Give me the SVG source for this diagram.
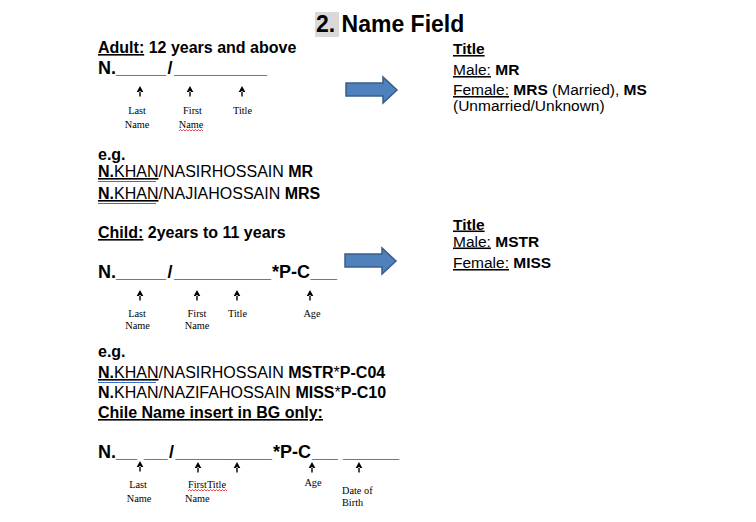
<svg xmlns="http://www.w3.org/2000/svg" xmlns:xlink="http://www.w3.org/1999/xlink" width="756" height="522" viewBox="0 0 756 522">
<style>
.t{font-family:"Liberation Sans",Arial,sans-serif;fill:#000}
.b{font-weight:bold}
.u{text-decoration:underline}
.h{font-size:16px}
.r{font-size:15.5px}
.n{font-size:18px;font-weight:bold}
.s{font-family:"Liberation Serif","Times New Roman",serif;font-size:10.3px;fill:#000}
.blk{fill:#4F81BD;stroke:#385D8A;stroke-width:1.5}
.blue{stroke:#3A6FD8;stroke-width:1}
.sq{fill:none;stroke:#E02020;stroke-width:0.8}
</style>
<defs>
<path id="ua" d="M0,0 L-3.3,6 L3.3,6 Z M-0.7,5 H0.7 V10.5 H-0.7 Z" fill="#000"/>
</defs>
<rect width="756" height="522" fill="#fff"/>

<g id="heading">
<rect x="315" y="12" width="24" height="25" fill="#D9D9D9"/>
<text class="t b" x="316" y="32" font-size="23">2. Name Field</text>
</g>

<g id="adult">
<text class="t h b" x="98" y="53"><tspan class="u">Adult:</tspan> 12 years and above</text>
<text class="t n" y="74"><tspan x="98">N.</tspan><tspan x="116" textLength="50" lengthAdjust="spacingAndGlyphs">_____</tspan><tspan x="167.5">/</tspan><tspan x="174" textLength="93" lengthAdjust="spacingAndGlyphs">_________</tspan></text>
<use xlink:href="#ua" x="140" y="86"/>
<use xlink:href="#ua" x="190" y="86"/>
<use xlink:href="#ua" x="242" y="86"/>
<text class="s" text-anchor="middle"><tspan x="137" y="114">Last</tspan><tspan x="137" y="128">Name</tspan><tspan x="192.5" y="114">First</tspan><tspan x="191" y="128">Name</tspan><tspan x="242.5" y="114">Title</tspan></text>
<path class="sq" d="M179,131 l1.5,-1.5 l1.5,1.5 l1.5,-1.5 l1.5,1.5 l1.5,-1.5 l1.5,1.5 l1.5,-1.5 l1.5,1.5 l1.5,-1.5 l1.5,1.5 l1.5,-1.5 l1.5,1.5 l1.5,-1.5 l1.5,1.5 l1.5,-1.5 l1.5,1.5"/>
</g>

<g id="adult-examples">
<text class="t h b" x="98" y="160">e.g.</text>
<text class="t h" x="98" y="177"><tspan class="b u">N.</tspan><tspan class="u">KHAN</tspan>/NASIRHOSSAIN <tspan class="b">MR</tspan></text>
<line class="blue" x1="98" y1="181.5" x2="156" y2="181.5"/>
<text class="t h" x="98" y="199"><tspan class="b u">N.</tspan><tspan class="u">KHAN</tspan>/NAJIAHOSSAIN <tspan class="b">MRS</tspan></text>
<line class="blue" x1="98" y1="203.5" x2="156" y2="203.5"/>
</g>

<g id="adult-titles">
<text class="t r b u" x="453" y="54">Title</text>
<text class="t r" x="453" y="75"><tspan class="u">Male:</tspan> <tspan class="b">MR</tspan></text>
<text class="t r" x="453" y="95"><tspan class="u">Female:</tspan> <tspan class="b">MRS</tspan> (Married), <tspan class="b">MS</tspan></text>
<text class="t r" x="453" y="111">(Unmarried/Unknown)</text>
</g>

<g id="child">
<text class="t h b" x="98" y="238"><tspan class="u">Child:</tspan> 2years to 11 years</text>
<text class="t n" y="278"><tspan x="98">N.</tspan><tspan x="116" textLength="50" lengthAdjust="spacingAndGlyphs">_____</tspan><tspan x="167.5">/</tspan><tspan x="174" textLength="97" lengthAdjust="spacingAndGlyphs">_________</tspan><tspan x="272">*P-C</tspan><tspan x="310.5" textLength="26.5" lengthAdjust="spacingAndGlyphs">___</tspan></text>
<use xlink:href="#ua" x="140" y="290"/>
<use xlink:href="#ua" x="197" y="290"/>
<use xlink:href="#ua" x="237" y="290"/>
<use xlink:href="#ua" x="310" y="290"/>
<text class="s" text-anchor="middle"><tspan x="137" y="317">Last</tspan><tspan x="137.5" y="329">Name</tspan><tspan x="197" y="317">First</tspan><tspan x="197" y="329">Name</tspan><tspan x="237.5" y="317">Title</tspan><tspan x="312" y="317">Age</tspan></text>
</g>

<g id="child-titles">
<text class="t r b u" x="453" y="229.5">Title</text>
<text class="t r" x="453" y="246.5"><tspan class="u">Male:</tspan> <tspan class="b">MSTR</tspan></text>
<text class="t r" x="453" y="268"><tspan class="u">Female:</tspan> <tspan class="b">MISS</tspan></text>
</g>

<g id="child-examples">
<text class="t h b" x="98" y="357">e.g.</text>
<text class="t h" x="98" y="378"><tspan class="b u">N.</tspan><tspan class="u">KHAN</tspan>/NASIRHOSSAIN <tspan class="b">MSTR</tspan>*<tspan class="b">P-C04</tspan></text>
<line class="blue" x1="98" y1="382.5" x2="156" y2="382.5"/>
<text class="t h" x="98" y="398"><tspan class="b">N.</tspan>KHAN/NAZIFAHOSSAIN <tspan class="b">MISS</tspan>*<tspan class="b">P-C10</tspan></text>
<text class="t h b u" x="98" y="418">Chile Name insert in BG only:</text>
</g>

<g id="bg-format">
<text class="t n" y="458"><tspan x="98">N.</tspan><tspan x="116" textLength="21" lengthAdjust="spacingAndGlyphs">__</tspan><tspan x="144" textLength="23.5" lengthAdjust="spacingAndGlyphs">__</tspan><tspan x="169">/</tspan><tspan x="175.5" textLength="96.5" lengthAdjust="spacingAndGlyphs">_________</tspan><tspan x="273">*P-C</tspan><tspan x="312" textLength="26" lengthAdjust="spacingAndGlyphs">___</tspan><tspan x="343" textLength="56" lengthAdjust="spacingAndGlyphs">______</tspan></text>
<use xlink:href="#ua" x="140" y="461"/>
<use xlink:href="#ua" x="198" y="462"/>
<use xlink:href="#ua" x="237" y="462"/>
<use xlink:href="#ua" x="312" y="462"/>
<use xlink:href="#ua" x="359" y="462"/>
<text class="s"><tspan x="138" y="488" text-anchor="middle">Last</tspan><tspan x="139" y="502" text-anchor="middle">Name</tspan><tspan x="188" y="488">FirstTitle</tspan><tspan x="185" y="502">Name</tspan><tspan x="313" y="486" text-anchor="middle">Age</tspan><tspan x="342" y="494">Date of</tspan><tspan x="342" y="506">Birth</tspan></text>
<path class="sq" d="M188,491 l1.5,-1.5 l1.5,1.5 l1.5,-1.5 l1.5,1.5 l1.5,-1.5 l1.5,1.5 l1.5,-1.5 l1.5,1.5 l1.5,-1.5 l1.5,1.5 l1.5,-1.5 l1.5,1.5 l1.5,-1.5 l1.5,1.5 l1.5,-1.5 l1.5,1.5 l1.5,-1.5 l1.5,1.5 l1.5,-1.5 l1.5,1.5 l1.5,-1.5 l1.5,1.5 l1.5,-1.5 l1.5,1.5 l1.5,-1.5 l1.5,1.5"/>
</g>

<g id="connectors">
<path class="blk" d="M346,83 H383 V77 L397,90 L383,103 V96 H346 Z"/>
<path class="blk" d="M345,254 H382 V248 L396,261 L382,274 V267 H345 Z"/>
</g>
</svg>
